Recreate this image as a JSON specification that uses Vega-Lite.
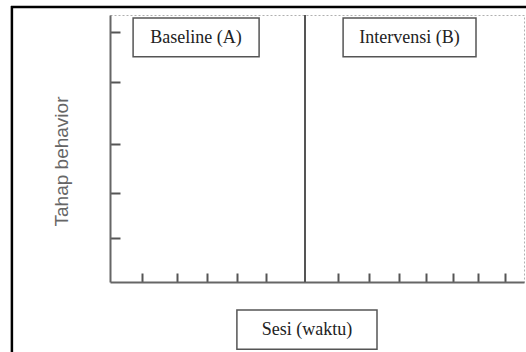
{
  "$schema": "https://vega.github.io/schema/vega-lite/v6.json",
  "width": 414,
  "height": 267,
  "autosize": {"type": "none"},
  "padding": {"left": 110, "top": 15, "right": 2, "bottom": 70},
  "background": "white",
  "config": {
    "view": {"stroke": "#b0b0b0", "strokeDash": [2, 2], "strokeWidth": 1},
    "axis": {"grid": false, "labels": false, "labelOverlap": false, "domainColor": "#666", "domainWidth": 2, "tickColor": "#555", "tickWidth": 2}
  },
  "layer": [
    {
      "data": {"values": [{"frame": "outer"}]},
      "layer": [
        {
          "mark": {"type": "rule", "color": "black", "strokeWidth": 2.5, "clip": false},
          "encoding": {
            "x": {"datum": -3.27, "type": "quantitative", "scale": {"domain": [0, 13.8], "nice": false, "zero": false},
              "axis": {"values": [1.07, 2.23, 3.23, 4.23, 5.2, 7.6, 8.63, 9.63, 10.53, 11.43, 12.27, 13.17], "tickCount": 30, "tickSize": -9, "title": null}},
            "y": {"datum": -5, "type": "quantitative", "scale": {"domain": [0, 6], "nice": false, "zero": false},
              "axis": {"values": [0.99, 2.0, 3.1, 4.49, 5.62], "tickCount": 30, "tickSize": -10, "title": "Tahap behavior",
                "titleFont": "Liberation Sans", "titleFontSize": 19, "titleFontWeight": "normal", "titleColor": "#666",
                "titleAngle": -90, "titleX": -43, "titleY": 146, "titleAlign": "center", "titleBaseline": "alphabetic"}},
            "y2": {"datum": 6.2}
          }
        },
        {
          "mark": {"type": "rule", "color": "black", "strokeWidth": 2.5, "clip": false},
          "encoding": {
            "x": {"datum": -3.3, "type": "quantitative", "scale": {"domain": [0, 13.8], "nice": false, "zero": false}},
            "x2": {"datum": 14.2},
            "y": {"datum": 6.18, "type": "quantitative", "scale": {"domain": [0, 6], "nice": false, "zero": false}}
          }
        }
      ]
    },
    {
      "data": {"values": [{"phaseChange": 6.5}]},
      "mark": {"type": "rule", "color": "#555", "strokeWidth": 2},
      "encoding": {
        "x": {"field": "phaseChange", "type": "quantitative", "scale": {"domain": [0, 13.8], "nice": false, "zero": false}}
      }
    },
    {
      "data": {"values": [
        {"label": "Baseline (A)", "from": 0.77, "to": 4.97},
        {"label": "Intervensi (B)", "from": 7.77, "to": 12.2}
      ]},
      "layer": [
        {
          "mark": {"type": "rect", "fill": "white", "stroke": "#555", "strokeWidth": 1.5},
          "encoding": {
            "x": {"field": "from", "type": "quantitative", "scale": {"domain": [0, 13.8], "nice": false, "zero": false}},
            "x2": {"field": "to"},
            "y": {"datum": 5.06, "type": "quantitative", "scale": {"domain": [0, 6], "nice": false, "zero": false}},
            "y2": {"datum": 5.93}
          }
        },
        {
          "transform": [{"calculate": "(datum.from + datum.to) / 2", "as": "mid"}],
          "mark": {"type": "text", "font": "Liberation Serif", "fontSize": 18, "color": "#222", "baseline": "middle", "align": "center"},
          "encoding": {
            "x": {"field": "mid", "type": "quantitative", "scale": {"domain": [0, 13.8], "nice": false, "zero": false}},
            "y": {"datum": 5.48, "type": "quantitative", "scale": {"domain": [0, 6], "nice": false, "zero": false}},
            "text": {"field": "label"}
          }
        }
      ]
    },
    {
      "data": {"values": [{"label": "Sesi (waktu)", "from": 4.23, "to": 8.9}]},
      "layer": [
        {
          "mark": {"type": "rect", "fill": "white", "stroke": "#555", "strokeWidth": 1.5},
          "encoding": {
            "x": {"field": "from", "type": "quantitative", "scale": {"domain": [0, 13.8], "nice": false, "zero": false}},
            "x2": {"field": "to"},
            "y": {"datum": -1.51, "type": "quantitative", "scale": {"domain": [0, 6], "nice": false, "zero": false}},
            "y2": {"datum": -0.63}
          }
        },
        {
          "transform": [{"calculate": "(datum.from + datum.to) / 2", "as": "mid"}],
          "mark": {"type": "text", "font": "Liberation Serif", "fontSize": 18, "color": "#222", "baseline": "middle", "align": "center"},
          "encoding": {
            "x": {"field": "mid", "type": "quantitative", "scale": {"domain": [0, 13.8], "nice": false, "zero": false}},
            "y": {"datum": -1.08, "type": "quantitative", "scale": {"domain": [0, 6], "nice": false, "zero": false}},
            "text": {"field": "label"}
          }
        }
      ]
    }
  ]
}
